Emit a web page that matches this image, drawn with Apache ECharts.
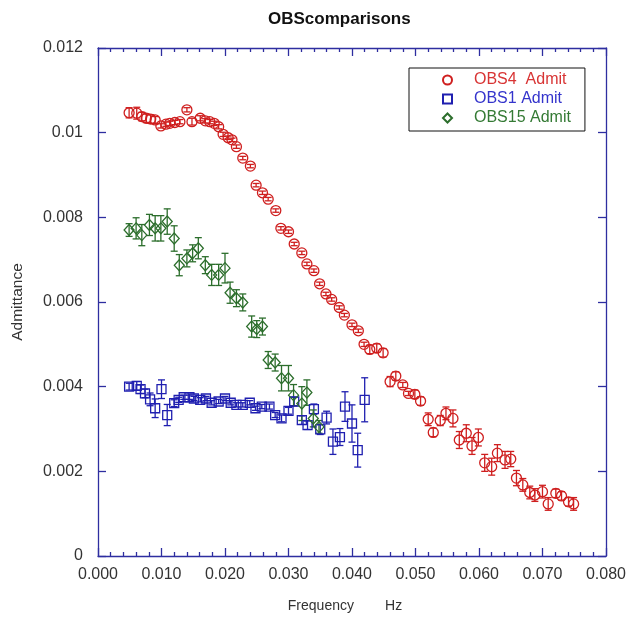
<!DOCTYPE html>
<html>
<head>
<meta charset="utf-8">
<script src="https://cdn.jsdelivr.net/npm/echarts@6/dist/echarts.min.js"></script>
<style>
  html, body { margin: 0; padding: 0; background: #fff; }
  #chart { width: 629px; height: 620px; }
</style>
</head>
<body>
<div id="chart"></div>
<script>
// OBS4 (red circles)
var obs4Freq = [0.0049, 0.0061, 0.0069, 0.0076, 0.0083, 0.0090, 0.0099, 0.0107, 0.0113, 0.0121,
    0.0129, 0.0140, 0.0148, 0.0161, 0.0169, 0.0176, 0.0183, 0.0190, 0.0197, 0.0205,
    0.0211, 0.0218, 0.0228, 0.0240, 0.0249, 0.0259, 0.0268, 0.0280, 0.0288, 0.0300,
    0.0309, 0.0321, 0.0329, 0.0340, 0.0349, 0.0359, 0.0368, 0.0380, 0.0388, 0.0400,
    0.0410, 0.0419, 0.0428, 0.0439, 0.0449, 0.0460, 0.0469, 0.0480, 0.0489, 0.0499,
    0.0508, 0.0520, 0.0528, 0.0539, 0.0548, 0.0559, 0.0569, 0.0580, 0.0589, 0.0599,
    0.0609, 0.0620, 0.0629, 0.0641, 0.0650, 0.0659, 0.0669, 0.0680, 0.0688, 0.0700,
    0.0709, 0.0721, 0.0730, 0.0741, 0.0749];
var obs4Adm = [0.01047, 0.01046, 0.01038, 0.01034, 0.01032, 0.01030, 0.01016, 0.01020, 0.01022, 0.01024,
    0.01026, 0.01054, 0.01026, 0.01034, 0.01028, 0.01026, 0.01022, 0.01014, 0.00996, 0.00988,
    0.00983, 0.00967, 0.00940, 0.00921, 0.00876, 0.00858, 0.00843, 0.00816, 0.00774, 0.00766,
    0.00737, 0.00716, 0.00690, 0.00674, 0.00643, 0.00619, 0.00606, 0.00587, 0.00569, 0.00546,
    0.00532, 0.00500, 0.00488, 0.00491, 0.00480, 0.00412, 0.00425, 0.00404, 0.00384, 0.00382,
    0.00366, 0.00323, 0.00292, 0.00320, 0.00337, 0.00325, 0.00274, 0.00290, 0.00260, 0.00280,
    0.00220, 0.00211, 0.00243, 0.00227, 0.00229, 0.00184, 0.00168, 0.00150, 0.00144, 0.00152,
    0.00123, 0.00148, 0.00142, 0.00128, 0.00123];
var obs4Err = [0.00012, 0.00014, 0.00010, 0.00010, 0.00010, 0.00008, 0.00005, 0.00005, 0.00005, 0.00005,
    0.00005, 0.00005, 0.00008, 0.00006, 0.00005, 0.00005, 0.00005, 0.00005, 0.00005, 0.00004,
    0.00004, 0.00004, 0.00004, 0.00004, 0.00004, 0.00004, 0.00004, 0.00004, 0.00004, 0.00004,
    0.00004, 0.00004, 0.00004, 0.00004, 0.00004, 0.00004, 0.00004, 0.00004, 0.00004, 0.00004,
    0.00004, 0.00005, 0.00010, 0.00010, 0.00010, 0.00012, 0.00010, 0.00006, 0.00005, 0.00010,
    0.00010, 0.00015, 0.00010, 0.00012, 0.00015, 0.00020, 0.00020, 0.00020, 0.00020, 0.00020,
    0.00020, 0.00020, 0.00020, 0.00020, 0.00018, 0.00018, 0.00015, 0.00015, 0.00015, 0.00015,
    0.00015, 0.00010, 0.00010, 0.00010, 0.00015];

// OBS1 (blue squares)
var obs1Freq = [0.0049, 0.0061, 0.0067, 0.0074, 0.0082, 0.0090, 0.0100, 0.0109, 0.0120, 0.0127,
    0.0135, 0.0144, 0.0151, 0.0161, 0.0170, 0.0179, 0.0190, 0.0200, 0.0209, 0.0218,
    0.0228, 0.0239, 0.0248, 0.0258, 0.0270, 0.0279, 0.0289, 0.0300, 0.0309, 0.0321,
    0.0330, 0.0340, 0.0350, 0.0360, 0.0370, 0.0381, 0.0389, 0.0400, 0.0409, 0.0420];
var obs1Adm = [0.00400, 0.00402, 0.00394, 0.00384, 0.00370, 0.00349, 0.00394, 0.00333, 0.00361, 0.00369,
    0.00375, 0.00375, 0.00372, 0.00369, 0.00372, 0.00362, 0.00365, 0.00372, 0.00362, 0.00357,
    0.00357, 0.00362, 0.00349, 0.00353, 0.00353, 0.00333, 0.00325, 0.00343, 0.00365, 0.00321,
    0.00309, 0.00347, 0.00299, 0.00327, 0.00270, 0.00281, 0.00353, 0.00313, 0.00250, 0.00369];
var obs1Err = [0.00008, 0.00010, 0.00010, 0.00010, 0.00015, 0.00022, 0.00022, 0.00025, 0.00008, 0.00006,
    0.00005, 0.00005, 0.00005, 0.00005, 0.00005, 0.00005, 0.00005, 0.00005, 0.00005, 0.00005,
    0.00005, 0.00005, 0.00005, 0.00005, 0.00006, 0.00006, 0.00008, 0.00008, 0.00010, 0.00010,
    0.00010, 0.00012, 0.00012, 0.00015, 0.00030, 0.00020, 0.00035, 0.00044, 0.00040, 0.00052];

// OBS15 (green diamonds)
var obs15Freq = [0.0049, 0.0060, 0.0069, 0.0081, 0.0090, 0.0099, 0.0109, 0.0120, 0.0128, 0.0140,
    0.0149, 0.0158, 0.0169, 0.0179, 0.0190, 0.0200, 0.0208, 0.0218, 0.0228, 0.0242,
    0.0250, 0.0259, 0.0268, 0.0279, 0.0289, 0.0300, 0.0308, 0.0321, 0.0329, 0.0339,
    0.0348];
var obs15Adm = [0.00770, 0.00774, 0.00758, 0.00782, 0.00774, 0.00774, 0.00790, 0.00750, 0.00687, 0.00703,
    0.00715, 0.00727, 0.00687, 0.00664, 0.00664, 0.00680, 0.00622, 0.00609, 0.00599, 0.00542,
    0.00536, 0.00542, 0.00463, 0.00457, 0.00420, 0.00420, 0.00380, 0.00360, 0.00386, 0.00325,
    0.00305];
var obs15Err = [0.00015, 0.00025, 0.00025, 0.00025, 0.00030, 0.00030, 0.00030, 0.00030, 0.00025, 0.00020,
    0.00020, 0.00025, 0.00020, 0.00025, 0.00025, 0.00035, 0.00025, 0.00020, 0.00020, 0.00025,
    0.00020, 0.00020, 0.00020, 0.00020, 0.00030, 0.00030, 0.00025, 0.00040, 0.00030, 0.00020,
    0.00015];

var xTicks = [0, 0.08, 0.01];
var yTicks = [0, 0.012, 0.002];

var axisBlue = '#2e2ea0';
var redC = '#cf1f1f';
var blueC = '#1f1fb0';
var greenC = '#2c6e2c';
var fontFam = 'Liberation Sans, Arial, sans-serif';

function zip(xs, ys, es) {
    var out = [];
    for (var i = 0; i < xs.length; ++i) {
        out.push([xs[i], ys[i], es[i]]);
    }
    return out;
}

function errorBars(color) {
    return function (params, api) {
        var x = api.value(0), y = api.value(1), e = api.value(2);
        var lo = api.coord([x, y - e]);
        var hi = api.coord([x, y + e]);
        var cap = 3.5;
        var style = { stroke: color, lineWidth: 1.3 };
        return {
            type: 'group',
            children: [
                { type: 'line', shape: { x1: lo[0], y1: lo[1], x2: hi[0], y2: hi[1] }, style: style },
                { type: 'line', shape: { x1: lo[0] - cap, y1: lo[1], x2: lo[0] + cap, y2: lo[1] }, style: style },
                { type: 'line', shape: { x1: hi[0] - cap, y1: hi[1], x2: hi[0] + cap, y2: hi[1] }, style: style }
            ]
        };
    };
}

// frame axis helper: same scale, ticks drawn inside, no labels
function frameAxis(pos, ticks, minor) {
    return {
        type: 'value',
        position: pos,
        min: ticks[0], max: ticks[1], interval: ticks[2],
        axisLine: { show: true, onZero: false, lineStyle: { color: axisBlue, width: 1.3 } },
        axisTick: { show: true, inside: true, length: 8, lineStyle: { color: axisBlue, width: 1.3 } },
        minorTick: { show: minor, splitNumber: 5, length: 4, lineStyle: { color: axisBlue, width: 1.3 } },
        axisLabel: { show: false },
        splitLine: { show: false }
    };
}

var chart = echarts.init(document.getElementById('chart'));

var tickFont = { fontFamily: fontFam, fontSize: 16, color: '#333' };
var nameFont = { fontFamily: fontFam, fontSize: 14, color: '#333' };

var xBottom = frameAxis('bottom', xTicks, true);
xBottom.name = 'Frequency        Hz';
xBottom.nameLocation = 'middle';
xBottom.nameGap = 43;
xBottom.nameTextStyle = Object.assign({ padding: [0, 14, 0, 0] }, nameFont);
xBottom.axisLabel = Object.assign({ show: true, margin: 11, formatter: function (v) { return v.toFixed(3); } }, tickFont);

var yLeft = frameAxis('left', yTicks, false);
yLeft.name = 'Admittance';
yLeft.nameLocation = 'middle';
yLeft.nameGap = 72;
yLeft.nameTextStyle = { fontFamily: fontFam, fontSize: 15.5, color: '#333' };
yLeft.axisLabel = Object.assign({ show: true, margin: 15, formatter: function (v) { return String(+v.toFixed(3)); } }, tickFont);

var option = {
    animation: false,
    backgroundColor: '#fff',
    title: {
        text: 'OBScomparisons',
        left: 263,
        top: 6,
        textStyle: { fontFamily: fontFam, fontSize: 17, fontWeight: 'bold', color: '#111' }
    },
    grid: { left: 98, top: 48, width: 508, height: 508 },
    legend: {
        left: 409,
        top: 68,
        orient: 'vertical',
        backgroundColor: '#fff',
        borderColor: '#111',
        borderWidth: 1,
        padding: [4, 14, 5, 33],
        itemGap: 3,
        itemWidth: 9,
        itemHeight: 9,
        textStyle: { fontFamily: fontFam, fontSize: 16, padding: [0, 0, 0, 17] },
        data: [
            { name: 'OBS4  Admit', textStyle: { color: '#d83434' } },
            { name: 'OBS1 Admit', textStyle: { color: '#3434cc' } },
            { name: 'OBS15 Admit', textStyle: { color: '#347a34' } }
        ]
    },
    xAxis: [xBottom, frameAxis('top', xTicks, true)],
    yAxis: [yLeft, frameAxis('right', yTicks, false)],
    series: [
        {
            name: 'OBS4 err', type: 'custom', xAxisIndex: 0, yAxisIndex: 0,
            renderItem: errorBars(redC), data: zip(obs4Freq, obs4Adm, obs4Err),
            encode: { x: 0, y: 1 }, z: 2
        },
        {
            name: 'OBS1 err', type: 'custom', xAxisIndex: 0, yAxisIndex: 0,
            renderItem: errorBars(blueC), data: zip(obs1Freq, obs1Adm, obs1Err),
            encode: { x: 0, y: 1 }, z: 2
        },
        {
            name: 'OBS15 err', type: 'custom', xAxisIndex: 0, yAxisIndex: 0,
            renderItem: errorBars(greenC), data: zip(obs15Freq, obs15Adm, obs15Err),
            encode: { x: 0, y: 1 }, z: 2
        },
        {
            name: 'OBS4  Admit', type: 'scatter', symbol: 'circle', symbolSize: 10,
            itemStyle: { color: 'rgba(255,255,255,0)', borderColor: redC, borderWidth: 1.3, opacity: 1 },
            data: zip(obs4Freq, obs4Adm, obs4Err), z: 3
        },
        {
            name: 'OBS1 Admit', type: 'scatter', symbol: 'rect', symbolSize: 9,
            itemStyle: { color: 'rgba(255,255,255,0)', borderColor: blueC, borderWidth: 1.3, opacity: 1 },
            data: zip(obs1Freq, obs1Adm, obs1Err), z: 3
        },
        {
            name: 'OBS15 Admit', type: 'scatter', symbol: 'diamond', symbolSize: [10, 11],
            itemStyle: { color: 'rgba(255,255,255,0)', borderColor: greenC, borderWidth: 1.3, opacity: 1 },
            data: zip(obs15Freq, obs15Adm, obs15Err), z: 3
        }
    ]
};

chart.setOption(option);
</script>
</body>
</html>
